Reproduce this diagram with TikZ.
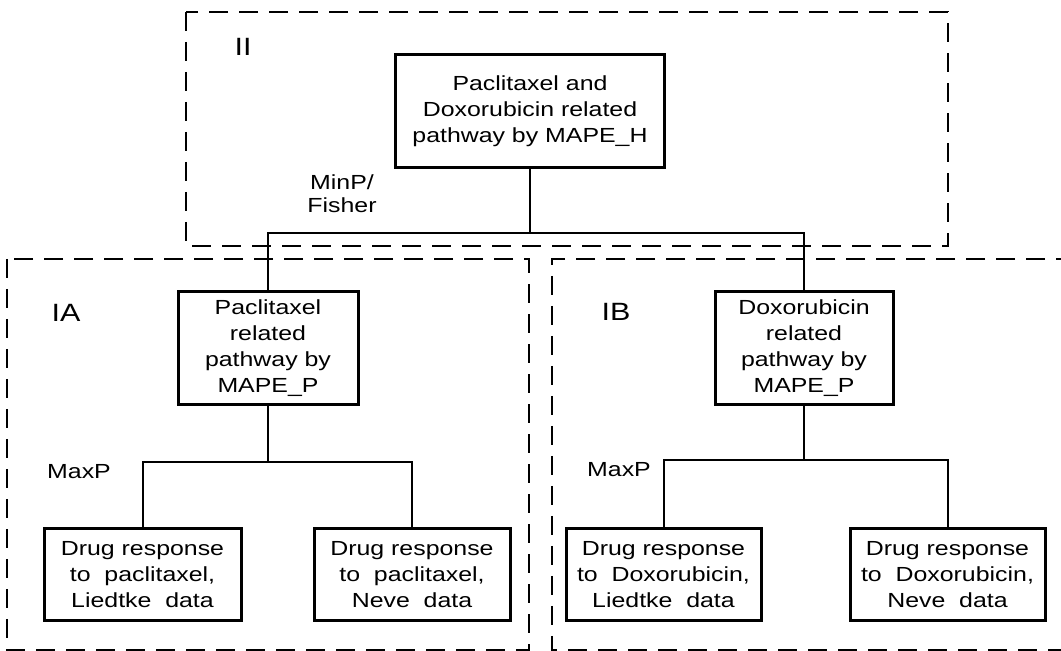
\documentclass[tikz,border=0pt]{standalone}
\usepackage{fontspec}
\setmainfont{Liberation Sans}[FakeStretch=1.22]
\usepackage{tikz}

\tikzset{
  frame/.style={dash pattern=on 9.5pt off 5.5pt, line width=1pt},
  link/.style={line width=1pt},
  pbox/.style={draw, line width=1.5pt, align=center, inner sep=0pt,
    font=\fontsize{10.2}{13}\selectfont},
  tag/.style={font=\fontsize{12.5}{14}\selectfont},
  lab/.style={align=center, font=\fontsize{10.2}{11.5}\selectfont}
}

\begin{document}
\begin{tikzpicture}[x=0.5pt, y=-0.5pt]
  \useasboundingbox (0,0) rectangle (1061,651);
  % dashed frames: II on top, IA and IB below
  \draw[frame] (186,12) rectangle (948,246);
  \draw[frame] (7,259) rectangle (529,650);
  \draw[frame] (1075,259) -- (552,259) -- (552,650) -- (1075,650);
  \node[tag] (tII) at (243,47) {II};
  \node[tag] (tIA) at (66,313) {IA};
  \node[tag] (tIB) at (616,312) {IB};

  % level II
  \node[pbox, minimum width=134.5pt, minimum height=56.5pt] (mapeH) at (530,111.5)
    {Paclitaxel and\\Doxorubicin related\\pathway by MAPE\_H};
  \node[lab] (minp) at (342,194) {MinP/\\Fisher};

  % level I
  \node[pbox, minimum width=90pt, minimum height=56.5pt] (mapePa) at (268,348.5)
    {Paclitaxel\\related\\pathway by\\MAPE\_P};
  \node[pbox, minimum width=89pt, minimum height=56.5pt] (mapePb) at (804,348.5)
    {Doxorubicin\\related\\pathway by\\MAPE\_P};
  \node[lab] (maxpA) at (79,472) {MaxP};
  \node[lab] (maxpB) at (619,470) {MaxP};

  % data sets
  \node[pbox, minimum width=98.5pt, minimum height=46pt] (paLied) at (142.5,575)
    {Drug response\\to\ \ paclitaxel,\\Liedtke\ \ data};
  \node[pbox, minimum width=98pt, minimum height=46pt] (paNeve) at (412,575)
    {Drug response\\to\ \ paclitaxel,\\Neve\ \ data};
  \node[pbox, minimum width=97.5pt, minimum height=46pt] (dxLied) at (663.5,575)
    {Drug response\\to\ \ Doxorubicin,\\Liedtke\ \ data};
  \node[pbox, minimum width=97.5pt, minimum height=46pt] (dxNeve) at (947.5,575)
    {Drug response\\to\ \ Doxorubicin,\\Neve\ \ data};

  % tree connectors
  \coordinate (busII) at (530,233);
  \coordinate (busA) at (268,462);
  \coordinate (busB) at (804,460);
  \draw[link] (mapeH.south) -- (busII);
  \draw[link] (mapePa.north) |- (busII) -| (mapePb.north);
  \draw[link] (mapePa.south) -- (busA);
  \draw[link] (paLied.north) |- (busA) -| (paNeve.north);
  \draw[link] (mapePb.south) -- (busB);
  \draw[link] (dxLied.north) |- (busB) -| (dxNeve.north);
\end{tikzpicture}
\end{document}
